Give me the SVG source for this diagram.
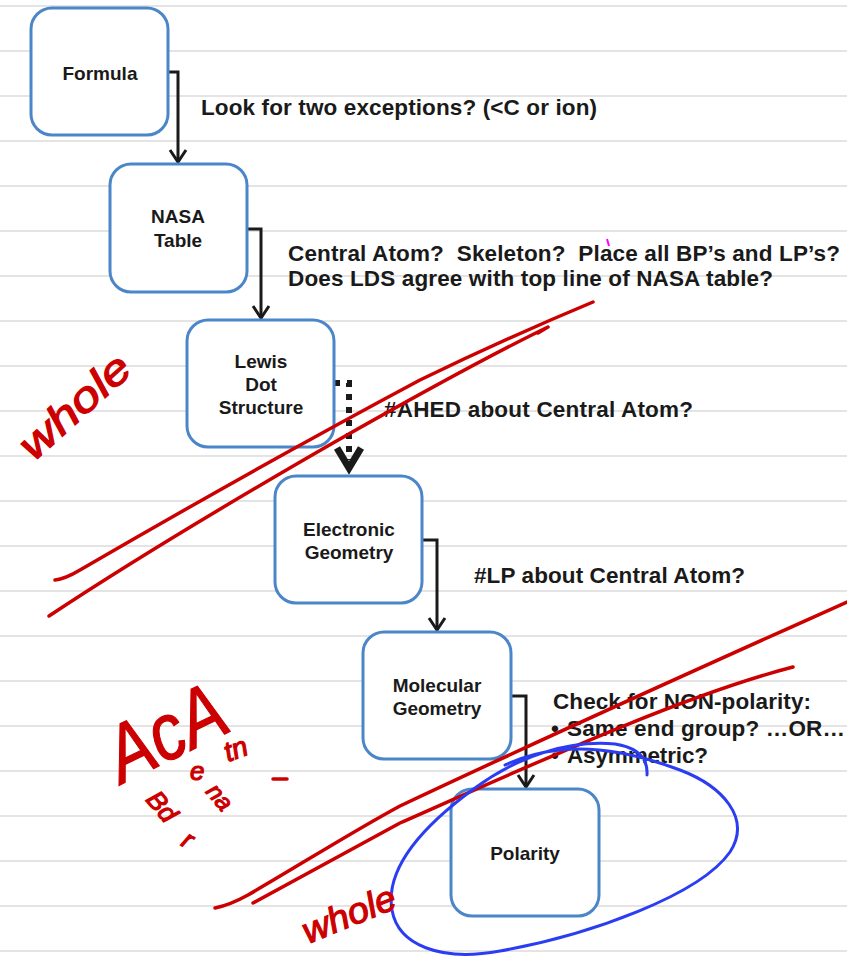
<svg xmlns="http://www.w3.org/2000/svg" width="847" height="958" viewBox="0 0 847 958">
<style>
.rule{stroke:#e4e4e4;stroke-width:2}
.box{fill:#fff;stroke:#4a86c8;stroke-width:3}
.lbl{font-family:"Liberation Sans",Arial,sans-serif;font-weight:bold;font-size:19px;fill:#1a1a1a;text-anchor:middle}
.note{font-family:"Liberation Sans",Arial,sans-serif;font-weight:bold;font-size:22.5px;fill:#1a1a1a}
.conn{fill:none;stroke:#1a1a1a;stroke-width:3}
.red{fill:none;stroke:#cc0000;stroke-width:3.5;stroke-linecap:round;stroke-linejoin:round}
.blue{fill:none;stroke:#2b3df2;stroke-width:3;stroke-linecap:round}
.hand{font-family:"Liberation Sans",Arial,sans-serif;font-style:italic;fill:#cc0000;stroke:#cc0000;stroke-width:1.2}
</style>
<rect width="847" height="958" fill="#fff"/>
<g id="rules">
<line class="rule" x1="0" y1="6" x2="847" y2="6"/>
<line class="rule" x1="0" y1="51" x2="847" y2="51"/>
<line class="rule" x1="0" y1="96" x2="847" y2="96"/>
<line class="rule" x1="0" y1="141" x2="847" y2="141"/>
<line class="rule" x1="0" y1="186" x2="847" y2="186"/>
<line class="rule" x1="0" y1="231" x2="847" y2="231"/>
<line class="rule" x1="0" y1="276" x2="847" y2="276"/>
<line class="rule" x1="0" y1="321" x2="847" y2="321"/>
<line class="rule" x1="0" y1="366" x2="847" y2="366"/>
<line class="rule" x1="0" y1="411" x2="847" y2="411"/>
<line class="rule" x1="0" y1="456" x2="847" y2="456"/>
<line class="rule" x1="0" y1="501" x2="847" y2="501"/>
<line class="rule" x1="0" y1="546" x2="847" y2="546"/>
<line class="rule" x1="0" y1="591" x2="847" y2="591"/>
<line class="rule" x1="0" y1="636" x2="847" y2="636"/>
<line class="rule" x1="0" y1="681" x2="847" y2="681"/>
<line class="rule" x1="0" y1="726" x2="847" y2="726"/>
<line class="rule" x1="0" y1="771" x2="847" y2="771"/>
<line class="rule" x1="0" y1="816" x2="847" y2="816"/>
<line class="rule" x1="0" y1="861" x2="847" y2="861"/>
<line class="rule" x1="0" y1="906" x2="847" y2="906"/>
<line class="rule" x1="0" y1="951" x2="847" y2="951"/>
</g>
<g id="connectors">
<path class="conn" d="M168,72 H178 V162"/>
<path class="conn" d="M170,150 L178,162 L186,150"/>
<path class="conn" d="M247,229 H261 V318"/>
<path class="conn" d="M253,306 L261,318 L269,306"/>
<path d="M334,383 H349 V460" fill="none" stroke="#1a1a1a" stroke-width="6" stroke-dasharray="6 7"/>
<path d="M337,448 L349,468 L361,448" fill="none" stroke="#1a1a1a" stroke-width="7" stroke-linejoin="miter"/>
<path class="conn" d="M422,540 H437 V630"/>
<path class="conn" d="M429,618 L437,630 L445,618"/>
<path class="conn" d="M511,696 H526 V787"/>
<path class="conn" d="M518,775 L526,787 L534,775"/>
</g>
<g id="formula"><rect class="box" x="31" y="8" width="137" height="127" rx="21"/><text class="lbl" x="100" y="80">Formula</text></g>
<g id="nasa"><rect class="box" x="110" y="164" width="137" height="128" rx="21"/><text class="lbl" x="178" y="223">NASA</text><text class="lbl" x="178" y="247">Table</text></g>
<g id="lewis"><rect class="box" x="187" y="320" width="147" height="127" rx="21"/><text class="lbl" x="261" y="368">Lewis</text><text class="lbl" x="261" y="391">Dot</text><text class="lbl" x="261" y="414">Structure</text></g>
<g id="electronic"><rect class="box" x="275" y="476" width="147" height="127" rx="21"/><text class="lbl" x="349" y="536">Electronic</text><text class="lbl" x="349" y="559">Geometry</text></g>
<g id="molecular"><rect class="box" x="363" y="632" width="148" height="127" rx="21"/><text class="lbl" x="437" y="692">Molecular</text><text class="lbl" x="437" y="715">Geometry</text></g>
<g id="polarity"><rect class="box" x="451" y="789" width="148" height="127" rx="21"/><text class="lbl" x="525" y="860">Polarity</text></g>
<g id="notes">
<text class="note" x="201" y="115" textLength="396" lengthAdjust="spacing">Look for two exceptions? (&lt;C or ion)</text>
<text class="note" x="288" y="261" textLength="552" lengthAdjust="spacing" xml:space="preserve">Central Atom?  Skeleton?  Place all BP’s and LP’s?</text>
<text class="note" x="288" y="286" textLength="485" lengthAdjust="spacing">Does LDS agree with top line of NASA table?</text>
<text class="note" x="384" y="417" textLength="309" lengthAdjust="spacing">#AHED about Central Atom?</text>
<text class="note" x="474" y="583" textLength="271" lengthAdjust="spacing">#LP about Central Atom?</text>
<text class="note" x="553" y="709" textLength="258" lengthAdjust="spacing">Check for NON-polarity:</text>
<text class="note" x="551" y="736">•</text>
<text class="note" x="567" y="736" textLength="278" lengthAdjust="spacing">Same end group? …OR…</text>
<text class="note" x="551" y="763">•</text>
<text class="note" x="567" y="763" textLength="141" lengthAdjust="spacing">Asymmetric?</text>
</g>
<g id="annotations">
<path d="M607,239 L609,246" stroke="#ff00ff" stroke-width="2" fill="none"/>
<path class="red" d="M55,580 Q65,579 80,570 C180,512 300,444 420,380 C490,346 545,322 593,302"/>
<path class="red" d="M49,616 C150,549 260,485 333,443 C400,405 480,360 548,327 L538,333"/>
<path class="red" d="M215,908 Q230,905 248,895 C300,865 350,833 400,806 C550,735 700,668 847,602"/>
<path class="red" d="M253,903 C300,877 350,850 400,823 C520,770 680,696 793,667"/>
<path class="red" d="M273,779 H287"/>
<path class="blue" d="M647,775 C648,760 640,748 615,744 C570,740 520,755 475,788 C420,828 385,870 392,910 C398,945 440,962 500,951 C590,935 700,895 730,852 C752,818 722,786 680,770 C640,755 600,746 560,750 C540,752 520,758 505,765"/>
<text class="hand" transform="translate(34,462) rotate(-42)" font-size="42" textLength="135" lengthAdjust="spacingAndGlyphs">whole</text>
<text class="hand" transform="translate(308,944) rotate(-22)" font-size="36" textLength="98" lengthAdjust="spacingAndGlyphs">whole</text>
<text class="hand" transform="translate(122,784) rotate(-26)" font-size="80" textLength="124" lengthAdjust="spacingAndGlyphs">AcA</text>
<text class="hand" x="190" y="780" font-size="26">e</text>
<text class="hand" transform="translate(228,762) rotate(-20)" font-size="28">tn</text>
<text class="hand" transform="translate(145,800) rotate(50)" font-size="26">Bd</text>
<text class="hand" transform="translate(180,845) rotate(30)" font-size="26">r</text>
<text class="hand" transform="translate(205,792) rotate(50)" font-size="24">na</text>
</g>
</svg>
